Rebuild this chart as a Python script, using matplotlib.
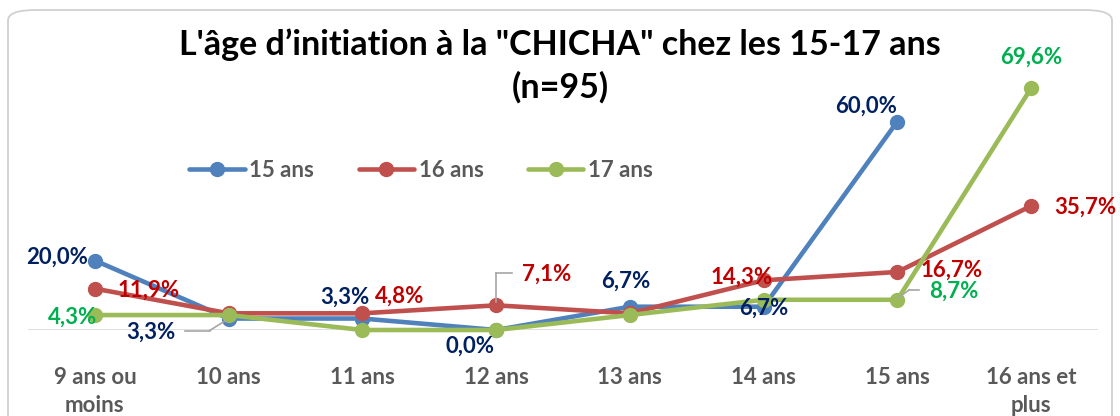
import matplotlib
matplotlib.use("Agg")
import matplotlib.pyplot as plt
from matplotlib.patches import FancyBboxPatch
from matplotlib.lines import Line2D
from matplotlib.transforms import offset_copy

plt.rcParams['font.family'] = ['Lato', 'DejaVu Sans']

categories = ["9 ans ou\nmoins", "10 ans", "11 ans", "12 ans", "13 ans", "14 ans", "15 ans", "16 ans et\nplus"]
series_names = ["15 ans", "16 ans", "17 ans"]
v15 = [20.0, 3.3, 3.3, 0.0, 6.7, 6.7, 60.0, None]
v16 = [11.9, 4.8, 4.8, 7.1, 4.8, 14.3, 16.7, 35.7]
v17 = [4.3, 4.3, 0.0, 0.0, 4.3, 8.7, 8.7, 69.6]
title1 = "L'âge d\u2019initiation à la \"CHICHA\" chez les 15-17 ans"
title2 = "(n=95)"

line_colors = ["#4F81BD", "#C0504D", "#9BBB59"]
label_colors = ["#002060", "#C00000", "#00B050"]

W, H = 1120, 416
fig = plt.figure(figsize=(W / 100, H / 100), dpi=100)

# border
fig.patches.append(FancyBboxPatch((8 / W, -20 / H), 1104 / W, 406 / H + 20 / H,
                                  boxstyle="round,pad=0,rounding_size=0.025",
                                  transform=fig.transFigure, facecolor="none",
                                  edgecolor="#D0D0D0", linewidth=1.3, zorder=-1))

x0, x1 = 28, 1098
ybase, ytop = 330, 52
ax = fig.add_axes([x0 / W, (H - ybase) / H, (x1 - x0) / W, (ybase - ytop) / H])
ax.set_facecolor("none")
ax.set_xlim(-0.5, len(categories) - 0.5)
ax.set_ylim(0, 80)
for s in ax.spines.values():
    s.set_visible(False)
ax.axhline(0, color="#D9D9D9", lw=1.2, zorder=1)
ax.set_yticks([])
xs = list(range(len(categories)))
ax.set_xticks(xs)
ax.set_xticklabels(categories, fontsize=16, fontweight="bold", color="#595959")
ax.tick_params(axis="x", length=0, pad=27)
for t in ax.get_xticklabels():
    t.set_linespacing(1.4)

all_vals = [v15, v16, v17]
for vals, c, name in zip(all_vals, line_colors, series_names):
    px = [x for x, v in zip(xs, vals) if v is not None]
    py = [v for v in vals if v is not None]
    ax.plot(px, py, color=c, lw=3.3, marker="o", markersize=10, label=name,
            solid_capstyle="round", zorder=3, clip_on=False)

def fmt(v):
    return f"{v:.1f}".replace(".", ",") + "%"

# (series index, category index, dx, dy, ha)
labels = [
    (0, 0, -7, 3, "right"),
    (0, 1, -53, -14, "right"),
    (0, 2, 7, 21, "right"),
    (0, 3, -2, -16, "right"),
    (0, 4, -4, 26, "center"),
    (0, 5, 0, -1, "center"),
    (0, 6, 0, 15, "right"),
    (1, 0, 23, -2, "left"),
    (1, 2, 13, 17, "left"),
    (1, 3, 26, 31, "left"),
    (1, 5, 9, 3, "right"),
    (1, 6, 23, 2, "left"),
    (1, 7, 23, -1, "left"),
    (2, 0, 2, -2, "right"),
    (2, 6, 32, 9, "left"),
    (2, 7, 0, 31, "center"),
]
for si, ci, dx, dy, ha in labels:
    v = all_vals[si][ci]
    ax.annotate(fmt(v), xy=(ci, v), xytext=(dx, dy), textcoords="offset pixels",
                ha=ha, va="center", fontsize=16, fontweight="bold",
                color=label_colors[si], zorder=5)

# leader lines: polylines in pixel offsets from the data point
leaders = [
    (1, v15[1], [(-3, -2), (-19, -12), (-44, -12)]),
    (3, v16[3], [(0, 3), (0, 32), (16, 32)]),
    (6, v17[6], [(1, 2), (12, 10), (22, 10)]),
]
for ci, v, pts in leaders:
    for (ax_, ay_), (bx_, by_) in zip(pts[:-1], pts[1:]):
        ta = offset_copy(ax.transData, fig=fig, x=ax_, y=ay_, units="dots")
        tb = offset_copy(ax.transData, fig=fig, x=bx_, y=by_, units="dots")
        p1 = ta.transform((ci, v))
        p2 = tb.transform((ci, v))
        fig.add_artist(Line2D([p1[0] / W, p2[0] / W], [p1[1] / H, p2[1] / H],
                              transform=fig.transFigure, color="#A6A6A6", lw=1.2, zorder=2))

# legend
handles = [Line2D([0], [0], color=c, lw=3.3, marker="o", markersize=10,
                  solid_capstyle="round") for c in line_colors]
leg = fig.legend(handles, series_names, loc="center", bbox_to_anchor=(421 / W, 1 - 170 / H),
                 ncol=3, frameon=False, handlelength=2.5, handletextpad=0.2,
                 columnspacing=2.0, prop=dict(size=16, weight="bold"))
for t in leg.get_texts():
    t.set_color("#595959")

fig.text(560 / W, 1 - 45 / H, title1, ha="center", va="center", fontsize=24.5,
         fontweight="bold", color="black")
fig.text(560 / W, 1 - 87 / H, title2, ha="center", va="center", fontsize=24.5,
         fontweight="bold", color="black")

fig.savefig("out.png", dpi=100)
